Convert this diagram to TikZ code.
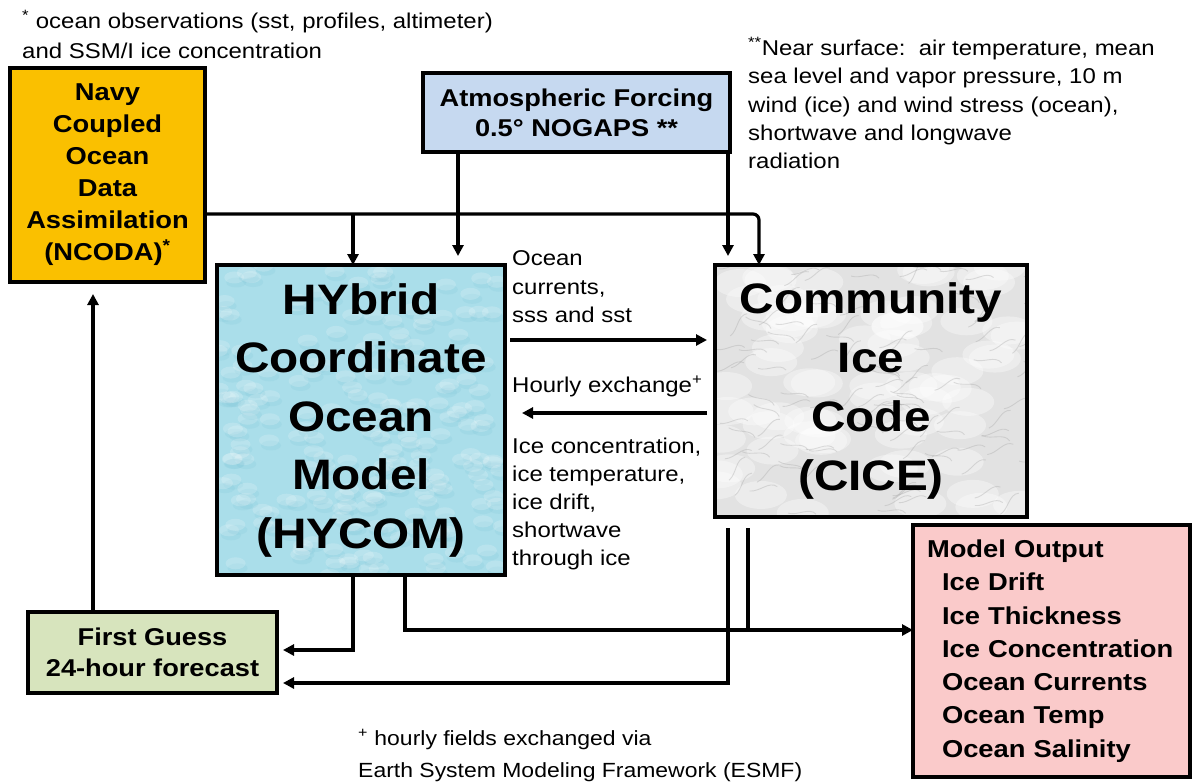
\documentclass[tikz,border=0pt]{standalone}
\usepackage{fontspec}
\setmainfont{Liberation Sans}[FakeStretch=1.12]
\usetikzlibrary{arrows.meta,calc}
\pgfdeclarelayer{background}
\pgfdeclarelayer{canvas}
\pgfsetlayers{canvas,background,main}
\definecolor{ncodafill}{RGB}{250,192,0}
\definecolor{atmfill}{RGB}{198,217,240}
\definecolor{hycomfill}{RGB}{170,222,234}
\definecolor{hycomdark}{RGB}{125,195,214}
\definecolor{cicefill}{RGB}{226,226,226}
\definecolor{fgfill}{RGB}{215,228,189}
\definecolor{mofill}{RGB}{250,202,202}
\begin{document}
\begin{tikzpicture}[x=1pt,y=-1pt,
  box/.style={draw=black, line width=4pt, outer sep=0pt, inner sep=0pt, align=center},
  arr/.style={line width=3.2pt, -{Triangle[length=11pt,width=11pt]}},
  conn/.style={line width=3.2pt},
  note/.style={font=\fontsize{21.4}{28}\selectfont, anchor=base west, inner sep=0pt},
  bigfont/.style={font=\fontsize{42.6}{58.5}\selectfont\bfseries},
  midfont/.style={font=\fontsize{24.4}{32}\selectfont\bfseries}]
\begin{pgfonlayer}{canvas}
  \fill[white] (0,0) rectangle (1192,782);
\end{pgfonlayer}
\useasboundingbox (0,0) rectangle (1192,782);

% boxes
\node[box, fill=ncodafill, minimum width=195pt, minimum height=214pt, midfont] (ncoda) at (107.5,175)
  {Navy\\Coupled\\Ocean\\Data\\Assimilation\\(NCODA)\textsuperscript{*}};
\node[box, fill=atmfill, minimum width=307pt, minimum height=79pt, font=\fontsize{24.3}{30}\selectfont\bfseries] (atm) at (576.5,112.5)
  {Atmospheric Forcing\\0.5° NOGAPS **};
\node[box, minimum width=288pt, minimum height=310pt, bigfont] (hycom) at (361,420)
  {HYbrid\\Coordinate\\Ocean\\Model\\(HYCOM)};
\node[box, minimum width=312pt, minimum height=252pt, font=\fontsize{42.6}{59}\selectfont\bfseries] (cice) at (871,391)
  {Community\\Ice\\Code\\(CICE)};
\node[box, fill=fgfill, minimum width=249pt, minimum height=81pt, font=\fontsize{24.3}{31}\selectfont\bfseries] (fg) at (152.5,652.5)
  {First Guess\\24-hour forecast};
\node[box, fill=mofill, minimum width=277pt, minimum height=252pt, text width=249pt, align=left, font=\fontsize{24.4}{33.3}\selectfont\bfseries] (mo) at (1051.5,651)
  {Model Output\\\hspace*{15pt}Ice Drift\\\hspace*{15pt}Ice Thickness\\\hspace*{15pt}Ice Concentration\\\hspace*{15pt}Ocean Currents\\\hspace*{15pt}Ocean Temp\\\hspace*{15pt}Ocean Salinity};

% textures
\begin{pgfonlayer}{background}
  \fill[hycomfill] (hycom.north west) rectangle (hycom.south east);
  \begin{scope}
    \clip (hycom.north west) rectangle (hycom.south east);
    \pgfmathsetseed{3}
    \foreach \i in {1,...,200} {
      \pgfmathsetmacro\px{217+288*rnd}
      \pgfmathsetmacro\py{265+310*rnd}
      \fill[hycomdark, opacity=0.18] (\px+2,\py+5) ellipse (10pt and 5pt);
      \fill[white, opacity=0.18] (\px,\py) ellipse (10pt and 6pt);
    }
  \end{scope}
  \fill[cicefill] (cice.north west) rectangle (cice.south east);
  \begin{scope}
    \clip (cice.north west) rectangle (cice.south east);
    \pgfmathsetseed{11}
    \foreach \i in {1,...,70} {
      \pgfmathsetmacro\px{715+312*rnd}
      \pgfmathsetmacro\py{265+252*rnd}
      \fill[white, opacity=0.35] (\px,\py) ellipse (26pt and 14pt);
    }
    \foreach \i in {1,...,110} {
      \pgfmathsetmacro\px{715+312*rnd}
      \pgfmathsetmacro\py{265+252*rnd}
      \pgfmathsetmacro\a{-40+80*rnd}
      \draw[gray!70, opacity=0.35, line width=0.9pt] (\px,\py) .. controls +(\a:10pt) and +(\a+150:10pt) .. +(\a+15:28pt);
    }
  \end{scope}
\end{pgfonlayer}

% helper coordinates
\coordinate (xa) at (458,0);
\coordinate (xb) at (728,0);
\coordinate (xn) at (353,0);
\coordinate (xc) at (759,0);
\coordinate (xd) at (405,0);
\coordinate (xe) at (748,0);
\coordinate (xf) at (93,0);
\coordinate (yn) at (0,214);
\coordinate (y1) at (0,340);
\coordinate (y2) at (0,413);
\coordinate (y3) at (0,650);
\coordinate (y4) at (0,630);
\coordinate (y5) at (0,683);

% connectors
\draw[arr] (atm.south -| xa) -- ([yshift=9pt]hycom.north -| xa);
\draw[arr] (atm.south -| xb) -- ([yshift=9pt]cice.north -| xb);
\draw[arr, rounded corners=6pt] (ncoda.east |- yn) -- (yn -| xc) -- (cice.north -| xc);
\draw[arr] (yn -| xn) -- (hycom.north -| xn);
\draw[arr] ([xshift=5pt]hycom.east |- y1) -- ([xshift=-8pt]cice.west |- y1);
\draw[arr] ([xshift=-8pt]cice.west |- y2) -- ([xshift=17pt]hycom.east |- y2);
\draw[arr] (hycom.south -| xn) |- ([xshift=6pt]fg.east |- y3);
\draw[arr] (hycom.south -| xd) |- (mo.west |- y4);
\draw[conn] ([yshift=-11pt]cice.south -| xe) -- (y4 -| xe);
\draw[arr] ([yshift=-11pt]cice.south -| xb) |- ([xshift=6pt]fg.east |- y5);
\draw[arr] (fg.north -| xf) -- ([yshift=-12pt]ncoda.south -| xf);

% notes
\node[note] (tl1) at (22,28) {\textsuperscript{*} ocean observations (sst, profiles, altimeter)};
\node[note] (tl2) at (22,58) {and SSM/I ice concentration};
\node[note] (tr1) at (748,55) {\textsuperscript{**}Near surface:\ \ air temperature, mean};
\node[note] (tr2) at (748,83) {sea level and vapor pressure, 10 m};
\node[note] (tr3) at (748,112) {wind (ice) and wind stress (ocean),};
\node[note] (tr4) at (748,140) {shortwave and longwave};
\node[note] (tr5) at (748,168) {radiation};
\node[note] (m1) at (512,265) {Ocean};
\node[note] (m2) at (512,294) {currents,};
\node[note] (m3) at (512,322) {sss and sst};
\node[note] (m4) at (512,392) {Hourly exchange\textsuperscript{+}};
\node[note] (m5) at (512,453) {Ice concentration,};
\node[note] (m6) at (512,481) {ice temperature,};
\node[note] (m7) at (512,509) {ice drift,};
\node[note] (m8) at (512,537) {shortwave};
\node[note] (m9) at (512,565) {through ice};
\node[note, font=\fontsize{20.5}{28}\selectfont] (b1) at (358,745) {\textsuperscript{+} hourly fields exchanged via};
\node[note, font=\fontsize{20.5}{28}\selectfont] (b2) at (358,777) {Earth System Modeling Framework (ESMF)};
\end{tikzpicture}
\end{document}
